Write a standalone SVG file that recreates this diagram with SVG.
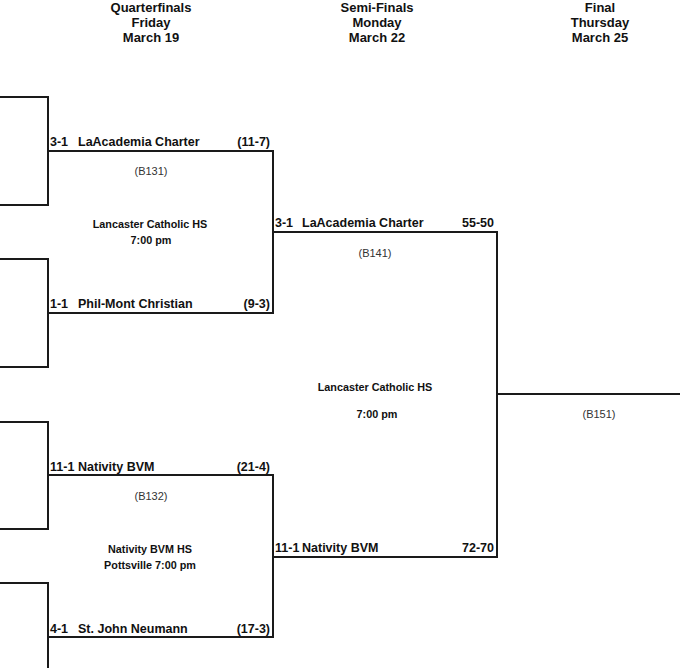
<svg xmlns="http://www.w3.org/2000/svg" width="680" height="668" viewBox="0 0 680 668">
<style>
.ln{fill:none;stroke:#1a1a1a;stroke-width:2;stroke-linecap:square}
.hd{font-family:"Liberation Sans",Arial,sans-serif;font-weight:bold;font-size:13px;fill:#111;text-anchor:middle}
.tm{font-family:"Liberation Sans",Arial,sans-serif;font-weight:bold;font-size:12.5px;fill:#111}
.sc{text-anchor:end}
.gm{font-family:"Liberation Sans",Arial,sans-serif;font-size:11px;fill:#333;text-anchor:middle}
.vn{font-family:"Liberation Sans",Arial,sans-serif;font-weight:bold;font-size:10.8px;fill:#111;text-anchor:middle}
</style>
<rect width="680" height="668" fill="#fff"/>
<g id="headers">
<text class="hd" x="151" y="12">Quarterfinals</text>
<text class="hd" x="151" y="27">Friday</text>
<text class="hd" x="151" y="41.5">March 19</text>
<text class="hd" x="377" y="12">Semi-Finals</text>
<text class="hd" x="377" y="27">Monday</text>
<text class="hd" x="377" y="41.5">March 22</text>
<text class="hd" x="600" y="12">Final</text>
<text class="hd" x="600" y="27">Thursday</text>
<text class="hd" x="600" y="41.5">March 25</text>
</g>
<g id="connectors">
<path class="ln" d="M0,97 H48 V205 H0"/>
<path class="ln" d="M0,259 H48 V367 H0"/>
<path class="ln" d="M0,422 H48 V529 H0"/>
<path class="ln" d="M0,583 H48 V669"/>
<path class="ln" d="M48,151 H273 V313 H48"/>
<path class="ln" d="M48,475 H273 V637 H48"/>
<path class="ln" d="M273,232 H497 V557 H273"/>
<path class="ln" d="M497,394 H681"/>
</g>
<g id="qf1-team1">
<text class="tm" x="50" y="146">3-1</text>
<text class="tm" x="78" y="146">LaAcademia Charter</text>
<text class="tm sc" x="270" y="146">(11-7)</text>
</g>
<g id="qf1-game">
<text class="gm" x="151" y="175">(B131)</text>
<text class="vn" x="150" y="228">Lancaster Catholic HS</text>
<text class="vn" x="151" y="244">7:00 pm</text>
</g>
<g id="qf1-team2">
<text class="tm" x="50" y="308">1-1</text>
<text class="tm" x="78" y="308">Phil-Mont Christian</text>
<text class="tm sc" x="270" y="308">(9-3)</text>
</g>
<g id="qf2-team1">
<text class="tm" x="50" y="471">11-1</text>
<text class="tm" x="78" y="471">Nativity BVM</text>
<text class="tm sc" x="270" y="471">(21-4)</text>
</g>
<g id="qf2-game">
<text class="gm" x="151" y="500">(B132)</text>
<text class="vn" x="150" y="553">Nativity BVM HS</text>
<text class="vn" x="150" y="569">Pottsville 7:00 pm</text>
</g>
<g id="qf2-team2">
<text class="tm" x="50" y="633">4-1</text>
<text class="tm" x="78" y="633">St. John Neumann</text>
<text class="tm sc" x="270" y="633">(17-3)</text>
</g>
<g id="sf-team1">
<text class="tm" x="275" y="227">3-1</text>
<text class="tm" x="302" y="227">LaAcademia Charter</text>
<text class="tm sc" x="494" y="227">55-50</text>
</g>
<g id="sf-game">
<text class="gm" x="375" y="257">(B141)</text>
<text class="vn" x="375" y="391">Lancaster Catholic HS</text>
<text class="vn" x="377" y="418">7:00 pm</text>
</g>
<g id="sf-team2">
<text class="tm" x="275" y="552">11-1</text>
<text class="tm" x="302" y="552">Nativity BVM</text>
<text class="tm sc" x="494" y="552">72-70</text>
</g>
<g id="final">
<text class="gm" x="599" y="418">(B151)</text>
</g>
</svg>
